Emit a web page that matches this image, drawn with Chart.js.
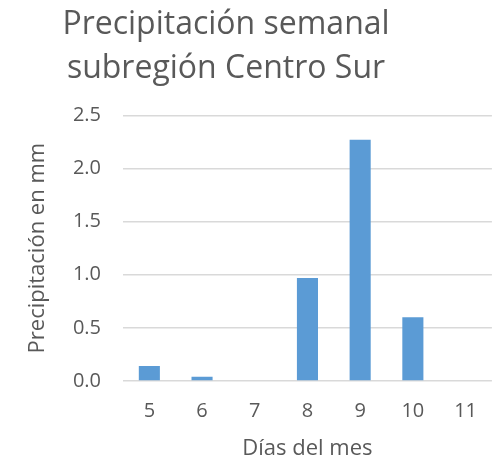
<!DOCTYPE html>
<html>
<head>
<meta charset="utf-8">
<script src="https://cdn.jsdelivr.net/npm/chart.js@4/dist/chart.umd.min.js"></script>
<style>
html,body{margin:0;padding:0;background:#fff;}
#wrap{width:495px;height:462px;}
</style>
</head>
<body>
<div id="wrap"><canvas id="c" width="495" height="462"></canvas></div>
<script>
const categories = ['5', '6', '7', '8', '9', '10', '11'];
const precipitation = [0.14, 0.04, 0, 0.97, 2.27, 0.60, 0];
const titleLines = ['Precipitación semanal', 'subregión Centro Sur'];
const yTitle = 'Precipitación en mm';
const xTitle = 'Días del mes';

const grey = '#595959';
const fontFam = '"Open Sans", sans-serif';

const titleShift = {
  id: 'titleShift',
  afterLayout(chart) {
    const t = chart.titleBlock;
    if (t) { t.left = 0; t.right = 452; }
  }
};

new Chart(document.getElementById('c'), {
  type: 'bar',
  data: {
    labels: categories,
    datasets: [{
      data: precipitation,
      backgroundColor: '#5b9bd5',
      borderWidth: 0,
      categoryPercentage: 1,
      barPercentage: 0.4
    }]
  },
  options: {
    responsive: false,
    animation: false,
    devicePixelRatio: 1,
    layout: { padding: 0 },
    plugins: {
      legend: { display: false },
      tooltip: { enabled: false },
      title: {
        display: true,
        text: titleLines,
        color: grey,
        font: { family: fontFam, size: 32, weight: 'normal', lineHeight: 1.38 },
        padding: { top: 3, bottom: 24 }
      }
    },
    scales: {
      x: {
        grid: { display: false, drawTicks: false },
        border: { display: false },
        ticks: { color: grey, font: { family: fontFam, size: 20 }, padding: 18, maxRotation: 0 },
        title: { display: true, text: xTitle, color: grey, font: { family: fontFam, size: 22 }, padding: { top: 2, bottom: 0 } },
        afterFit(s) { s.height = 81; }
      },
      y: {
        min: 0, max: 2.5,
        ticks: { stepSize: 0.5, color: grey, font: { family: fontFam, size: 20 }, padding: 22,
          callback: v => Number(v).toFixed(1) },
        grid: { color: '#d9d9d9', lineWidth: 1.5, drawTicks: false },
        border: { display: false },
        title: { display: true, text: yTitle, color: grey, font: { family: fontFam, size: 22 }, padding: { top: 25, bottom: 0 } },
        afterFit(s) { s.width = 123; }
      }
    }
  },
  plugins: [titleShift]
});
</script>
</body>
</html>
